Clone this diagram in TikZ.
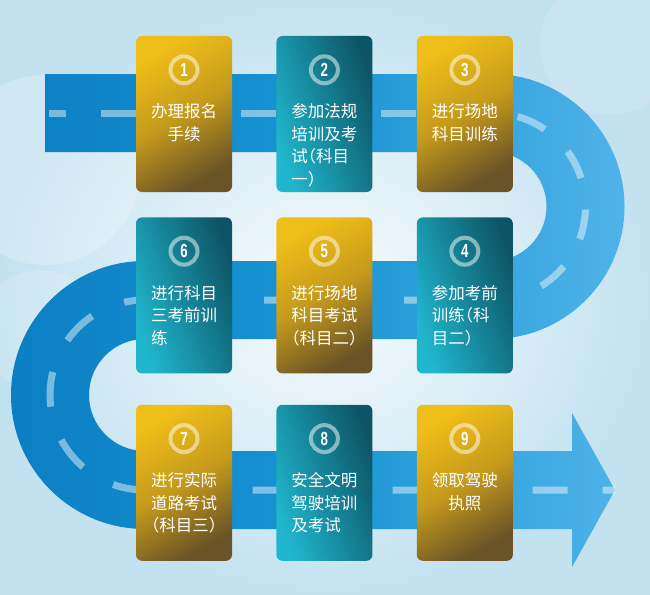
\documentclass[tikz,border=0pt]{standalone}
\usepackage{fontspec}
\usepackage{graphicx}
\newfontfamily\cjk[RawFeature=+halt]{Noto Sans CJK SC}
\newfontfamily\numfont{Liberation Sans}
\usepackage{tikz}
\usetikzlibrary{positioning}
\definecolor{bgIn}{HTML}{F8FCFE}
\definecolor{bgOut}{HTML}{C3E2F0}
\definecolor{roadD}{HTML}{0B7FC3}
\definecolor{roadM}{HTML}{1894D4}
\definecolor{roadL}{HTML}{50B3E8}
\definecolor{goldT}{HTML}{EFBE18}
\definecolor{goldM}{HTML}{C49A1C}
\definecolor{goldB}{HTML}{6A5326}
\definecolor{tealL}{HTML}{20B7CE}
\definecolor{tealD}{HTML}{0D5566}
\newcommand\badgeno[1]{\scalebox{0.7}[1]{#1}}

\begin{document}
\begin{tikzpicture}[x=1pt, y=-1pt,
	card/.style={rounded corners=6pt, minimum width=96pt, minimum height=156pt, inner sep=0pt},
	gold/.style={card, top color=goldT, bottom color=goldB, middle color=goldM, shading angle=30},
	teal/.style={card, top color=tealL, bottom color=tealD, shading angle=110},
	badge/.style={circle, draw=white, draw opacity=0.5, line width=4pt, minimum size=27pt,
		inner sep=0pt, text=white, font=\numfont\bfseries\fontsize{19}{19}\selectfont},
	steptext/.style={anchor=north, inner sep=0pt, text=white, align=left,
		font=\cjk\fontsize{16.5}{22.5}\selectfont},
	roadmark/.style={white, opacity=0.45, line width=7pt}]
	\useasboundingbox (0,0) rectangle (650,594);
	%% background
	\shade[inner color=bgIn, outer color=bgOut] (0,0) rectangle (650,594);
	\fill[white, opacity=0.22] (45,170) circle[radius=95pt];
	\fill[white, opacity=0.12] (610,45) circle[radius=70pt];
	\fill[white, opacity=0.15] (40,330) circle[radius=60pt];
	%% road
	\shade[left color=roadD, right color=roadL, middle color=roadM]
		(45,74) -- (492,74) arc[start angle=90, end angle=-90, radius=132.5pt]
		-- (145,339) arc[start angle=90, end angle=270, radius=56pt]
		-- (572,451) -- (572,413) -- (615,490) -- (572,567) -- (572,529)
		-- (145,529) arc[start angle=-90, end angle=-270, radius=134pt]
		-- (492,261) arc[start angle=-90, end angle=90, radius=54.5pt]
		-- (45,152) -- cycle;
	%% road marks
	\draw[roadmark, dash pattern=on 35pt off 35pt, dash phase=18pt] (49,113) -- (492,113);
	\draw[roadmark, dash pattern=on 30pt off 32pt, dash phase=36pt]
		(492,113) arc[start angle=90, end angle=-90, radius=93.5pt];
	\draw[roadmark, dash pattern=on 35pt off 35pt, dash phase=17pt]
		(492,300) -- (145,300) arc[start angle=90, end angle=270, radius=95pt] -- (615,490);
	%% cards
	\node[gold] (s1) at (184,114) {};
	\node[teal, right=44pt of s1] (s2) {};
	\node[gold, right=44pt of s2] (s3) {};
	\node[teal, below=25pt of s3] (s4) {};
	\node[gold, left=44pt of s4] (s5) {};
	\node[teal, left=44pt of s5] (s6) {};
	\node[gold, below=31pt of s6] (s7) {};
	\node[teal, right=44pt of s7] (s8) {};
	\node[gold, right=44pt of s8] (s9) {};
	%% numbers
	\foreach \i in {1,...,9}
		\node[badge] (b\i) at ([yshift=-34pt]s\i.north) {\badgeno{\i}};
	%% texts
	\node[steptext, align=center] (t1) at ([yshift=-68pt]s1.north) {办理报名\\手续};
	\node[steptext] (t2) at ([yshift=-68pt]s2.north) {参加法规\\培训及考\\试（科目\\一）};
	\node[steptext] (t3) at ([yshift=-68pt]s3.north) {进行场地\\科目训练};
	\node[steptext] (t4) at ([yshift=-68pt]s4.north) {参加考前\\训练（科\\目二）};
	\node[steptext] (t5) at ([yshift=-68pt]s5.north) {进行场地\\科目考试\\（科目二）};
	\node[steptext] (t6) at ([yshift=-68pt]s6.north) {进行科目\\三考前训\\练};
	\node[steptext] (t7) at ([yshift=-68pt]s7.north) {进行实际\\道路考试\\（科目三）};
	\node[steptext] (t8) at ([yshift=-68pt]s8.north) {安全文明\\驾驶培训\\及考试};
	\node[steptext, align=center] (t9) at ([yshift=-68pt]s9.north) {领取驾驶\\执照};
\end{tikzpicture}
\end{document}
